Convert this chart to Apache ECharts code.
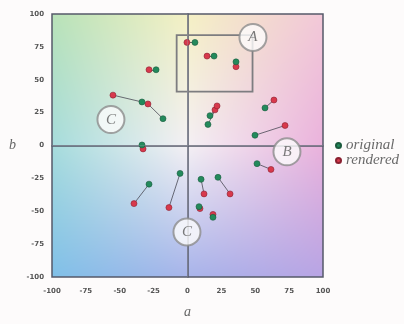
<!DOCTYPE html>
<html>
<head>
<meta charset="utf-8">
<script src="https://cdn.jsdelivr.net/npm/echarts@6/dist/echarts.min.js"></script>
<style>
  html, body { margin: 0; padding: 0; background: #fdfbfb; }
  #chart { width: 404px; height: 324px; }
</style>
</head>
<body>
<div id="chart"></div>
<script>
// a*/b* of each colour patch: original (green) vs rendered (red)
const originalA = [5.5, 19.6, 35.8, -23.2, -33.6, -18.1, -33.6, 16.6, 15.1, 57.2, 49.8, 51.3, -28.4, -5.5, 10.0, 22.5, 8.5, 18.8];
const originalB = [78.4, 68.0, 63.6, 57.6, 33.1, 20.4, 0.4, 22.7, 16.0, 28.6, 7.8, -13.8, -29.4, -21.2, -25.7, -24.2, -46.5, -54.6];
const renderedA = [-0.4, 14.4, 35.8, -28.4, -55.0, -29.2, -32.8, 20.3, 21.8, 63.8, 72.0, 61.6, -39.5, -13.7, 12.2, 31.4, 9.2, 18.8];
const renderedB = [78.4, 68.0, 59.9, 57.6, 38.3, 31.6, -2.6, 27.1, 30.1, 34.6, 15.2, -18.2, -44.2, -47.2, -36.8, -36.8, -48.0, -52.4];

const axisTicks = [-100, -75, -50, -25, 0, 25, 50, 75, 100];

// region callouts and the highlighted box
const calloutNames = ['A', 'B', 'C', 'C'];
const calloutA = [48.3, 73.4, -56.5, -0.4];
const calloutB = [82.2, -4.8, 19.7, -65.8];
const boxA = [-8, 48];
const boxB = [41, 84];

const chart = echarts.init(document.getElementById('chart'));

const original = originalA.map((a, i) => [a, originalB[i]]);
const rendered = renderedA.map((a, i) => [a, renderedB[i]]);
const links = original.map((p, i) => ({ coords: [p, rendered[i]] }));
const callouts = calloutNames.map((n, i) => ({ name: n, value: [calloutA[i], calloutB[i]] }));

const serif = 'Liberation Serif';

const axisCommon = {
  type: 'value',
  min: axisTicks[0],
  max: axisTicks[axisTicks.length - 1],
  interval: 25,
  axisLine: { show: true, lineStyle: { color: '#55596a', width: 1.5 } },
  axisTick: { show: false },
  splitLine: { show: false },
  axisLabel: { fontSize: 7, color: '#555', fontWeight: 'bold', fontFamily: 'DejaVu Sans' },
  nameTextStyle: { fontFamily: serif, fontStyle: 'italic', fontSize: 14, color: '#666' },
};

chart.setOption({
  animation: false,
  grid: {
    left: 52, top: 14, width: 271, height: 269,
    show: true, borderColor: '#55596a', borderWidth: 1.5, backgroundColor: 'transparent',
  },
  legend: {
    data: ['original', 'rendered'],
    orient: 'vertical',
    left: 330, top: 133,
    icon: 'circle', itemWidth: 5, itemHeight: 5, itemGap: 0,
    textStyle: { fontFamily: serif, fontStyle: 'italic', fontSize: 15, color: '#6a6a6a' },
  },
  xAxis: {
    ...axisCommon,
    name: 'a', nameLocation: 'middle', nameGap: 28,
    axisLabel: { ...axisCommon.axisLabel, margin: 11 },
  },
  yAxis: {
    ...axisCommon,
    name: 'b', nameLocation: 'middle', nameGap: 36, nameRotate: 0,
    axisLabel: { ...axisCommon.axisLabel, margin: 8 },
  },
  series: [
    {
      type: 'lines',
      coordinateSystem: 'cartesian2d',
      data: links,
      lineStyle: { color: '#4a4a55', width: 1, opacity: 0.8 },
      z: 2,
      markLine: {
        silent: true, symbol: 'none', label: { show: false },
        lineStyle: { color: '#9a9aa5', width: 0.8, type: 'solid', opacity: 0.45 },
        data: [{ xAxis: 0 }, { yAxis: 0 }],
      },
      markArea: {
        silent: true,
        itemStyle: { color: 'transparent', borderColor: '#7d7d80', borderWidth: 1.8 },
        data: [[{ coord: [boxA[0], boxB[1]] }, { coord: [boxA[1], boxB[0]] }]],
      },
    },
    {
      name: 'original',
      type: 'scatter',
      data: original,
      symbolSize: 6,
      itemStyle: { color: '#238a5c', borderColor: '#1a5a3c', borderWidth: 0.6, opacity: 1 },
      z: 4,
    },
    {
      name: 'rendered',
      type: 'scatter',
      data: rendered,
      symbolSize: 6,
      itemStyle: { color: '#d8394c', borderColor: '#8a2030', borderWidth: 0.6, opacity: 1 },
      z: 3,
    },
    {
      name: 'callouts',
      type: 'scatter',
      data: callouts,
      symbolSize: 27,
      itemStyle: { color: '#fcfcfc', borderColor: '#8c8c8c', borderWidth: 2 },
      label: {
        show: true, position: 'inside', formatter: '{b}',
        fontFamily: serif, fontStyle: 'italic', fontSize: 15, color: '#5a5a5a',
      },
      z: 5,
    },
  ],
});

// soft a*b* colour plane behind the grid: 3x3 colour grid, blended bilinearly
const planeColors = [
  ['#b8e2b8', '#f4f0c4', '#f2c8d8'],
  ['#a6dcdc', '#f4f0f4', '#eab2dc'],
  ['#80c0e8', '#a8b4ea', '#b8a4e4'],
];
const hexRgb = (h) => [1, 3, 5].map((k) => parseInt(h.slice(k, k + 2), 16));
const planeRgb = planeColors.map((row) => row.map(hexRgb));

const tl = chart.convertToPixel({ gridIndex: 0 }, [axisTicks[0], axisTicks[axisTicks.length - 1]]);
const br = chart.convertToPixel({ gridIndex: 0 }, [axisTicks[axisTicks.length - 1], axisTicks[0]]);
const w = Math.round(br[0] - tl[0]), h = Math.round(br[1] - tl[1]);
const canvas = document.createElement('canvas');
canvas.width = w; canvas.height = h;
const ctx = canvas.getContext('2d');
const img = ctx.createImageData(w, h);
for (let j = 0; j < h; j++) {
  const v = (2 * j) / (h - 1);
  const r0 = Math.min(1, Math.floor(v)), fv = v - r0;
  for (let i = 0; i < w; i++) {
    const u = (2 * i) / (w - 1);
    const c0 = Math.min(1, Math.floor(u)), fu = u - c0;
    const k = (i + j * w) * 4;
    for (let ch = 0; ch < 3; ch++) {
      const top = planeRgb[r0][c0][ch] * (1 - fu) + planeRgb[r0][c0 + 1][ch] * fu;
      const bot = planeRgb[r0 + 1][c0][ch] * (1 - fu) + planeRgb[r0 + 1][c0 + 1][ch] * fu;
      img.data[k + ch] = Math.round(top * (1 - fv) + bot * fv);
    }
    img.data[k + 3] = 255;
  }
}
ctx.putImageData(img, 0, 0);

chart.setOption({
  graphic: [{
    type: 'image', left: tl[0], top: tl[1], z: -10, silent: true,
    style: { image: canvas, width: w, height: h },
  }],
});
</script>
</body>
</html>
